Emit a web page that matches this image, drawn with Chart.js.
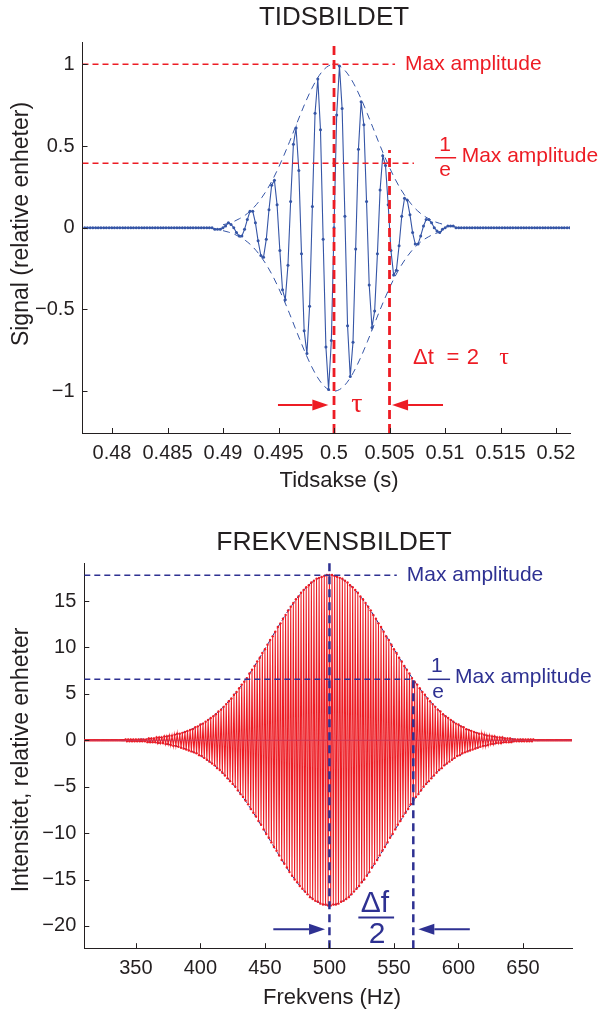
<!DOCTYPE html>
<html>
<head>
<meta charset="utf-8">
<title>Tidsbildet og frekvensbildet</title>
<script src="https://cdn.jsdelivr.net/npm/chart.js@4.4.1/dist/chart.umd.min.js"></script>
<style>
  html, body { margin: 0; padding: 0; background: #fff; }
  canvas { display: block; }
</style>
</head>
<body>
<canvas id="tid" width="600" height="505"></canvas>
<canvas id="frek" width="600" height="510"></canvas>
<script>
// ---- TIDSBILDET: sampled pulse (seconds, relative units) ----
const timeS = [
  0.47754,0.47778,0.47803,0.47827,0.47852,0.47876,0.47900,0.47925,0.47949,0.47974,
  0.47998,0.48022,0.48047,0.48071,0.48096,0.48120,0.48145,0.48169,0.48193,0.48218,
  0.48242,0.48267,0.48291,0.48315,0.48340,0.48364,0.48389,0.48413,0.48438,0.48462,
  0.48486,0.48511,0.48535,0.48560,0.48584,0.48608,0.48633,0.48657,0.48682,0.48706,
  0.48730,0.48755,0.48779,0.48804,0.48828,0.48853,0.48877,0.48901,0.48926,0.48950,
  0.48975,0.48999,0.49023,0.49048,0.49072,0.49097,0.49121,0.49146,0.49170,0.49194,
  0.49219,0.49243,0.49268,0.49292,0.49316,0.49341,0.49365,0.49390,0.49414,0.49438,
  0.49463,0.49487,0.49512,0.49536,0.49561,0.49585,0.49609,0.49634,0.49658,0.49683,
  0.49707,0.49731,0.49756,0.49780,0.49805,0.49829,0.49854,0.49878,0.49902,0.49927,
  0.49951,0.49976,0.50000,0.50024,0.50049,0.50073,0.50098,0.50122,0.50146,0.50171,
  0.50195,0.50220,0.50244,0.50269,0.50293,0.50317,0.50342,0.50366,0.50391,0.50415,
  0.50439,0.50464,0.50488,0.50513,0.50537,0.50562,0.50586,0.50610,0.50635,0.50659,
  0.50684,0.50708,0.50732,0.50757,0.50781,0.50806,0.50830,0.50854,0.50879,0.50903,
  0.50928,0.50952,0.50977,0.51001,0.51025,0.51050,0.51074,0.51099,0.51123,0.51147,
  0.51172,0.51196,0.51221,0.51245,0.51270,0.51294,0.51318,0.51343,0.51367,0.51392,
  0.51416,0.51440,0.51465,0.51489,0.51514,0.51538,0.51563,0.51587,0.51611,0.51636,
  0.51660,0.51685,0.51709,0.51733,0.51758,0.51782,0.51807,0.51831,0.51855,0.51880,
  0.51904,0.51929,0.51953,0.51978,0.52002,0.52026,0.52051,0.52075,0.52100,0.52124
];
const signal = [
  0,0,0,0,0,0,0,0,0,0,
  0,0,0,0,0,0,0,0,0,0,
  0,0,0,0,0,0,0,0,0,0,
  0,0,0,0,0,0,0,0,0,0,
  0,0,0,0,0,0,0,0,-0.01,-0.01,
  -0.01,0,0.01,0.03,0.02,0,-0.03,-0.05,-0.05,-0.01,
  0.05,0.10,0.10,0.03,-0.08,-0.17,-0.18,-0.07,0.11,0.26,
  0.29,0.14,-0.14,-0.38,-0.44,-0.23,0.16,0.51,0.61,0.35,
  -0.16,-0.63,-0.77,-0.48,0.13,0.70,0.91,0.60,-0.07,-0.73,
  -0.99,-0.69,0,0.69,0.99,0.73,0.07,-0.60,-0.91,-0.70,
  -0.13,0.48,0.77,0.63,0.16,-0.35,-0.61,-0.51,-0.16,0.23,
  0.44,0.38,0.14,-0.14,-0.29,-0.26,-0.11,0.07,0.18,0.17,
  0.08,-0.03,-0.10,-0.10,-0.05,0.01,0.05,0.05,0.03,0,
  -0.02,-0.03,-0.01,0,0.01,0.01,0.01,0,0,0,
  0,0,0,0,0,0,0,0,0,0,
  0,0,0,0,0,0,0,0,0,0,
  0,0,0,0,0,0,0,0,0,0,
  0,0,0,0,0,0,0,0,0,0
];
// dashed envelope of the pulse
const envTime = [
  0.4900,0.4905,0.4910,0.4915,0.4920,0.4925,0.4930,0.4935,0.4940,0.4945,
  0.4950,0.4955,0.4960,0.4965,0.4970,0.4975,0.4980,0.4985,0.4990,0.4995,
  0.5000,0.5005,0.5010,0.5015,0.5020,0.5025,0.5030,0.5035,0.5040,0.5045,
  0.5050,0.5055,0.5060,0.5065,0.5070,0.5075,0.5080,0.5085,0.5090,0.5095,0.5100
];
const envAmp = [
  0.018,0.027,0.039,0.056,0.077,0.105,0.141,0.185,0.237,0.298,
  0.368,0.445,0.527,0.613,0.698,0.779,0.852,0.914,0.961,0.990,
  1.000,0.990,0.961,0.914,0.852,0.779,0.698,0.613,0.527,0.445,
  0.368,0.298,0.237,0.185,0.141,0.105,0.077,0.056,0.039,0.027,0.018
];
const timeTicks = [0.48, 0.485, 0.49, 0.495, 0.5, 0.505, 0.51, 0.515, 0.52];
const signalTicks = [-1, -0.5, 0, 0.5, 1];

// ---- FREKVENSBILDET: spectrum (Hz, relative units) ----
const freqHz = [
  309,
  310,311,312,313,314,315,316,317,318,319,
  320,321,322,323,324,325,326,327,328,329,
  330,331,332,333,334,335,336,337,338,339,
  340,341,342,343,344,345,346,347,348,349,
  350,351,352,353,354,355,356,357,358,359,
  360,361,362,363,364,365,366,367,368,369,
  370,371,372,373,374,375,376,377,378,379,
  380,381,382,383,384,385,386,387,388,389,
  390,391,392,393,394,395,396,397,398,399,
  400,401,402,403,404,405,406,407,408,409,
  410,411,412,413,414,415,416,417,418,419,
  420,421,422,423,424,425,426,427,428,429,
  430,431,432,433,434,435,436,437,438,439,
  440,441,442,443,444,445,446,447,448,449,
  450,451,452,453,454,455,456,457,458,459,
  460,461,462,463,464,465,466,467,468,469,
  470,471,472,473,474,475,476,477,478,479,
  480,481,482,483,484,485,486,487,488,489,
  490,491,492,493,494,495,496,497,498,499,
  500,501,502,503,504,505,506,507,508,509,
  510,511,512,513,514,515,516,517,518,519,
  520,521,522,523,524,525,526,527,528,529,
  530,531,532,533,534,535,536,537,538,539,
  540,541,542,543,544,545,546,547,548,549,
  550,551,552,553,554,555,556,557,558,559,
  560,561,562,563,564,565,566,567,568,569,
  570,571,572,573,574,575,576,577,578,579,
  580,581,582,583,584,585,586,587,588,589,
  590,591,592,593,594,595,596,597,598,599,
  600,601,602,603,604,605,606,607,608,609,
  610,611,612,613,614,615,616,617,618,619,
  620,621,622,623,624,625,626,627,628,629,
  630,631,632,633,634,635,636,637,638,639,
  640,641,642,643,644,645,646,647,648,649,
  650,651,652,653,654,655,656,657,658,659,
  660,661,662,663,664,665,666,667,668,669,
  670,671,672,673,674,675,676,677,678,679,
  680,681,682,683,684,685,686,687,688
];
const spectrum = [
  0,
  0,0,0,0,0,0,0,0,0,0,
  0,0,0,0,0,0,0,0,0,0,
  0,0,0,0,0,0,0,0,0,0,
  0,0,0.1,-0.1,0.1,-0.1,0.1,-0.1,0.1,-0.1,
  0.1,-0.1,0.1,-0.1,0.1,-0.1,0.1,-0.1,0.1,-0.2,
  0.2,-0.2,0.2,-0.2,0.2,-0.2,0.3,-0.3,0.3,-0.3,
  0.3,-0.3,0.4,-0.4,0.4,-0.4,0.5,-0.5,0.5,-0.6,
  0.6,-0.6,0.7,-0.7,0.7,-0.8,0.8,-0.9,0.9,-1.0,
  1.0,-1.1,1.1,-1.2,1.2,-1.3,1.4,-1.4,1.5,-1.6,
  1.7,-1.7,1.8,-1.9,2.0,-2.1,2.2,-2.3,2.4,-2.5,
  2.6,-2.7,2.8,-3.0,3.1,-3.2,3.3,-3.5,3.6,-3.8,
  3.9,-4.1,4.2,-4.4,4.5,-4.7,4.9,-5.0,5.2,-5.4,
  5.6,-5.8,6.0,-6.1,6.3,-6.5,6.7,-6.9,7.2,-7.4,
  7.6,-7.8,8.0,-8.2,8.5,-8.7,8.9,-9.1,9.4,-9.6,
  9.8,-10.1,10.3,-10.5,10.8,-11.0,11.2,-11.5,11.7,-11.9,
  12.2,-12.4,12.6,-12.9,13.1,-13.3,13.5,-13.7,14.0,-14.2,
  14.4,-14.6,14.8,-15.0,15.2,-15.3,15.5,-15.7,15.9,-16.0,
  16.2,-16.3,16.5,-16.6,16.7,-16.9,17.0,-17.1,17.2,-17.3,
  17.4,-17.4,17.5,-17.6,17.6,-17.7,17.7,-17.7,17.8,-17.8,
  17.8,-17.8,17.8,-17.7,17.7,-17.7,17.6,-17.6,17.5,-17.4,
  17.4,-17.3,17.2,-17.1,17.0,-16.9,16.7,-16.6,16.5,-16.3,
  16.2,-16.0,15.9,-15.7,15.5,-15.3,15.2,-15.0,14.8,-14.6,
  14.4,-14.2,14.0,-13.7,13.5,-13.3,13.1,-12.9,12.6,-12.4,
  12.2,-11.9,11.7,-11.5,11.2,-11.0,10.8,-10.5,10.3,-10.1,
  9.8,-9.6,9.4,-9.1,8.9,-8.7,8.5,-8.2,8.0,-7.8,
  7.6,-7.4,7.2,-6.9,6.7,-6.5,6.3,-6.1,6.0,-5.8,
  5.6,-5.4,5.2,-5.0,4.9,-4.7,4.5,-4.4,4.2,-4.1,
  3.9,-3.8,3.6,-3.5,3.3,-3.2,3.1,-3.0,2.8,-2.7,
  2.6,-2.5,2.4,-2.3,2.2,-2.1,2.0,-1.9,1.8,-1.7,
  1.7,-1.6,1.5,-1.4,1.4,-1.3,1.2,-1.2,1.1,-1.1,
  1.0,-1.0,0.9,-0.9,0.8,-0.8,0.7,-0.7,0.7,-0.6,
  0.6,-0.6,0.5,-0.5,0.5,-0.4,0.4,-0.4,0.4,-0.3,
  0.3,-0.3,0.3,-0.3,0.3,-0.2,0.2,-0.2,0.2,-0.2,
  0.2,-0.2,0.1,-0.1,0.1,-0.1,0.1,-0.1,0.1,-0.1,
  0.1,-0.1,0.1,-0.1,0.1,-0.1,0.1,-0.1,0.1,0,
  0,0,0,0,0,0,0,0,0,0,
  0,0,0,0,0,0,0,0,0,0,
  0,0,0,0,0,0,0,0,0
];
// envelope of the spectrum
const envFreq = [
  310,320,330,340,350,360,370,380,390,400,410,420,430,440,450,460,470,480,490,500,
  510,520,530,540,550,560,570,580,590,600,610,620,630,640,650,660,670,680,690
];
const envSpec = [
  0,0,0,0.04,0.09,0.17,0.33,0.59,1.01,1.67,2.61,3.91,5.58,7.58,9.84,12.18,14.37,16.17,17.36,17.78,
  17.36,16.17,14.37,12.18,9.84,7.58,5.58,3.91,2.61,1.67,1.01,0.59,0.33,0.17,0.09,0.04,0,0,0
];
const freqTicks = [350, 400, 450, 500, 550, 600, 650];
const specTicks = [-20, -15, -10, -5, 0, 5, 10, 15];

// marker levels
const tidMax = 1, tidE = 0.394, tidCenter = 0.5, tidTau = 0.505;
const frekMax = 17.78, frekE = 6.57, frekCenter = 500, frekHalf = 565;

const RED = '#ed1c24';
const BLUE = '#3555a6';
const NAVY = '#2e3192';
const INK = '#231f20';
const FONT = '"Liberation Sans", Arial, Helvetica, sans-serif';
const SERIF = '"Liberation Serif", "DejaVu Serif", serif';
Chart.defaults.font.family = FONT;

const pts = (xs, ys) => xs.map((x, i) => ({ x: x, y: ys[i] }));
const seg = (x0, y0, x1, y1) => [{ x: x0, y: y0 }, { x: x1, y: y1 }];
const minus = v => (v < 0 ? '\u2212' + Math.abs(v) : String(v));

function refLine(data, color, width, dash) {
  return { data: data, showLine: true, borderColor: color, borderWidth: width,
           borderDash: dash, pointRadius: 0, order: 0 };
}

// titles, inward ticks and the text/arrow annotations
function makeDeco(deco) {
  return {
    id: 'deco',
    afterDraw(chart) {
      const { ctx, chartArea: area, scales: { x, y } } = chart;
      ctx.save();
      ctx.strokeStyle = INK;
      ctx.lineWidth = 1;
      ctx.beginPath();
      x.ticks.forEach(t => {
        const p = Math.round(x.getPixelForValue(t.value)) + 0.5;
        ctx.moveTo(p, area.bottom); ctx.lineTo(p, area.bottom - 5);
      });
      y.ticks.forEach(t => {
        const p = Math.round(y.getPixelForValue(t.value)) + 0.5;
        ctx.moveTo(area.left, p); ctx.lineTo(area.left + 5, p);
      });
      ctx.stroke();

      ctx.fillStyle = INK;
      ctx.textAlign = 'center';
      ctx.textBaseline = 'middle';
      ctx.font = deco.title.size + 'px ' + FONT;
      ctx.fillText(deco.title.text, deco.title.x, deco.title.y);
      ctx.font = '22px ' + FONT;
      ctx.fillText(deco.xTitle.text, deco.xTitle.x, deco.xTitle.y);
      ctx.save();
      ctx.translate(deco.yTitle.x, deco.yTitle.y);
      ctx.rotate(-Math.PI / 2);
      ctx.font = '23px ' + FONT;
      ctx.fillText(deco.yTitle.text, 0, 0);
      ctx.restore();

      deco.items.forEach(it => {
        ctx.fillStyle = it.color;
        ctx.strokeStyle = it.color;
        if (it.kind === 'text') {
          ctx.font = (it.size || 21) + 'px ' + (it.family || FONT);
          ctx.textAlign = it.align || 'center';
          ctx.fillText(it.text, x.getPixelForValue(it.x), y.getPixelForValue(it.y));
        } else if (it.kind === 'rule') {
          const py = y.getPixelForValue(it.y);
          ctx.lineWidth = it.width || 1.5;
          ctx.beginPath();
          ctx.moveTo(x.getPixelForValue(it.x0), py);
          ctx.lineTo(x.getPixelForValue(it.x1), py);
          ctx.stroke();
        } else if (it.kind === 'arrow') {
          const x0 = x.getPixelForValue(it.x0), x1 = x.getPixelForValue(it.x1);
          const py = y.getPixelForValue(it.y);
          const dir = Math.sign(x1 - x0), head = 16, half = 5.5;
          ctx.lineWidth = 2;
          ctx.beginPath();
          ctx.moveTo(x0, py); ctx.lineTo(x1 - dir * head, py);
          ctx.stroke();
          ctx.beginPath();
          ctx.moveTo(x1, py);
          ctx.lineTo(x1 - dir * head, py - half);
          ctx.lineTo(x1 - dir * head, py + half);
          ctx.closePath();
          ctx.fill();
        }
      });
      ctx.restore();
    }
  };
}

function makeChart(id, cfg) {
  return new Chart(document.getElementById(id), {
    type: 'scatter',
    data: { datasets: cfg.datasets },
    options: {
      responsive: false,
      animation: false,
      events: [],
      layout: { padding: cfg.padding },
      plugins: { legend: { display: false }, tooltip: { enabled: false }, title: { display: false } },
      scales: {
        x: {
          type: 'linear', min: cfg.xMin, max: cfg.xMax,
          grid: { display: false, drawTicks: false },
          border: { display: true, color: INK, width: 1 },
          afterBuildTicks: s => { s.ticks = cfg.xTicks.map(v => ({ value: v })); },
          afterFit: s => { s.height = cfg.xHeight; },
          ticks: { autoSkip: false, maxRotation: 0, padding: 8, color: INK,
                   font: { size: 20 }, callback: v => minus(v) },
          title: { display: false }
        },
        y: {
          type: 'linear', min: cfg.yMin, max: cfg.yMax,
          grid: { display: false, drawTicks: false },
          border: { display: true, color: INK, width: 1 },
          afterBuildTicks: s => { s.ticks = cfg.yTicks.map(v => ({ value: v })); },
          afterFit: s => { s.width = cfg.yWidth; },
          ticks: { autoSkip: false, padding: 8, color: INK,
                   font: { size: 20 }, callback: v => minus(v) },
          title: { display: false }
        }
      }
    },
    plugins: [makeDeco(cfg.deco)]
  });
}

const tMin = 0.47734, tMaxAxis = 0.52126, sMin = -1.256, sMax = 1.132;
makeChart('tid', {
  padding: { top: 42.7, right: 30, bottom: 0, left: 0 },
  xMin: tMin, xMax: tMaxAxis, yMin: sMin, yMax: sMax,
  xTicks: timeTicks, yTicks: signalTicks,
  xHeight: 72, yWidth: 82.5,
  datasets: [
    refLine(seg(tMin, tidMax, 0.5055, tidMax), RED, 1.5, [6, 4]),
    refLine(seg(tMin, tidE, 0.5072, tidE), RED, 1.5, [6, 4]),
    refLine(seg(tidCenter, sMin, tidCenter, sMax), RED, 2.8, [9, 5]),
    refLine(seg(tidTau, sMin, tidTau, 0.476), RED, 2.8, [9, 5]),
    { data: pts(timeS, signal), showLine: true, borderColor: BLUE, borderWidth: 1.1,
      pointRadius: 1.5, pointBackgroundColor: BLUE, pointBorderWidth: 0, order: 1 },
    { data: pts(envTime, envAmp), showLine: true, borderColor: BLUE, borderWidth: 1,
      borderDash: [7, 5], cubicInterpolationMode: 'monotone', pointRadius: 0, order: 2 },
    { data: pts(envTime, envAmp.map(v => -v)), showLine: true, borderColor: BLUE, borderWidth: 1,
      borderDash: [7, 5], cubicInterpolationMode: 'monotone', pointRadius: 0, order: 2 }
  ],
  deco: {
    title: { text: 'TIDSBILDET', x: 334, y: 18, size: 26 },
    xTitle: { text: 'Tidsakse (s)', x: 339, y: 481 },
    yTitle: { text: 'Signal (relative enheter)', x: 22, y: 224 },
    items: [
      { kind: 'text', x: 0.5064, y: 1.0, text: 'Max amplitude', color: RED, align: 'left' },
      { kind: 'text', x: 0.5100, y: 0.506, text: '1', color: RED },
      { kind: 'rule', x0: 0.5091, x1: 0.5110, y: 0.428, color: RED },
      { kind: 'text', x: 0.5100, y: 0.350, text: 'e', color: RED },
      { kind: 'text', x: 0.5115, y: 0.435, text: 'Max amplitude', color: RED, align: 'left' },
      { kind: 'text', x: 0.50712, y: -0.797, text: '\u0394t', color: RED, size: 22, align: 'left' },
      { kind: 'text', x: 0.51072, y: -0.797, text: '=', color: RED, size: 22 },
      { kind: 'text', x: 0.51252, y: -0.797, text: '2', color: RED, size: 22 },
      { kind: 'text', x: 0.51532, y: -0.797, text: '\u03c4', color: RED, size: 24, family: SERIF },
      { kind: 'text', x: 0.50207, y: -1.085, text: '\u03c4', color: RED, size: 28, family: SERIF },
      { kind: 'arrow', x0: 0.49495, x1: 0.49949, y: -1.085, color: RED },
      { kind: 'arrow', x0: 0.50982, x1: 0.50523, y: -1.085, color: RED }
    ]
  }
});

const fMin = 310, fMaxAxis = 688, iMin = -22.4, iMax = 19.1;
makeChart('frek', {
  padding: { top: 58, right: 28, bottom: 0, left: 0 },
  xMin: fMin, xMax: fMaxAxis, yMin: iMin, yMax: iMax,
  xTicks: freqTicks, yTicks: specTicks,
  xHeight: 66.8, yWidth: 84.3,
  datasets: [
    refLine(seg(fMin, frekMax, 552.2, frekMax), NAVY, 1.4, [6, 4]),
    refLine(seg(fMin, frekE, frekHalf, frekE), NAVY, 1.4, [6, 4]),
    refLine(seg(frekCenter, iMin, frekCenter, iMax), NAVY, 2.5, [8, 5]),
    refLine(seg(frekHalf, iMin, frekHalf, frekE), NAVY, 2.5, [8, 5]),
    Object.assign(refLine(seg(fMin, 0, fMaxAxis, 0), '#c8375a', 1, []), { order: 1 }),
    { data: pts(freqHz, spectrum), showLine: true, borderColor: RED, borderWidth: 1.05,
      pointRadius: 1.2, pointBackgroundColor: RED, pointBorderWidth: 0, order: 2 },
    { data: pts(envFreq, envSpec), showLine: true, borderColor: NAVY, borderWidth: 1,
      borderDash: [5, 4], cubicInterpolationMode: 'monotone', pointRadius: 0, order: 3 },
    { data: pts(envFreq, envSpec.map(v => -v)), showLine: true, borderColor: NAVY, borderWidth: 1,
      borderDash: [5, 4], cubicInterpolationMode: 'monotone', pointRadius: 0, order: 3 }
  ],
  deco: {
    title: { text: 'FREKVENSBILDET', x: 334, y: 38, size: 26.5 },
    xTitle: { text: 'Frekvens (Hz)', x: 332, y: 493 },
    yTitle: { text: 'Intensitet, relative enheter', x: 22, y: 255 },
    items: [
      { kind: 'text', x: 559.9, y: 17.8, text: 'Max amplitude', color: NAVY, align: 'left' },
      { kind: 'text', x: 583.2, y: 8.0, text: '1', color: NAVY },
      { kind: 'rule', x0: 576.2, x1: 593.5, y: 6.57, color: NAVY },
      { kind: 'text', x: 584.2, y: 5.2, text: 'e', color: NAVY },
      { kind: 'text', x: 597.4, y: 6.85, text: 'Max amplitude', color: NAVY, align: 'left' },
      { kind: 'text', x: 535.3, y: -17.6, text: '\u0394f', color: NAVY, size: 30 },
      { kind: 'rule', x0: 522.4, x1: 550.1, y: -19.1, color: NAVY, width: 2 },
      { kind: 'text', x: 536.9, y: -21.0, text: '2', color: NAVY, size: 30 },
      { kind: 'arrow', x0: 456.5, x1: 496.6, y: -20.37, color: NAVY },
      { kind: 'arrow', x0: 608.8, x1: 568.9, y: -20.37, color: NAVY }
    ]
  }
});
</script>
</body>
</html>
